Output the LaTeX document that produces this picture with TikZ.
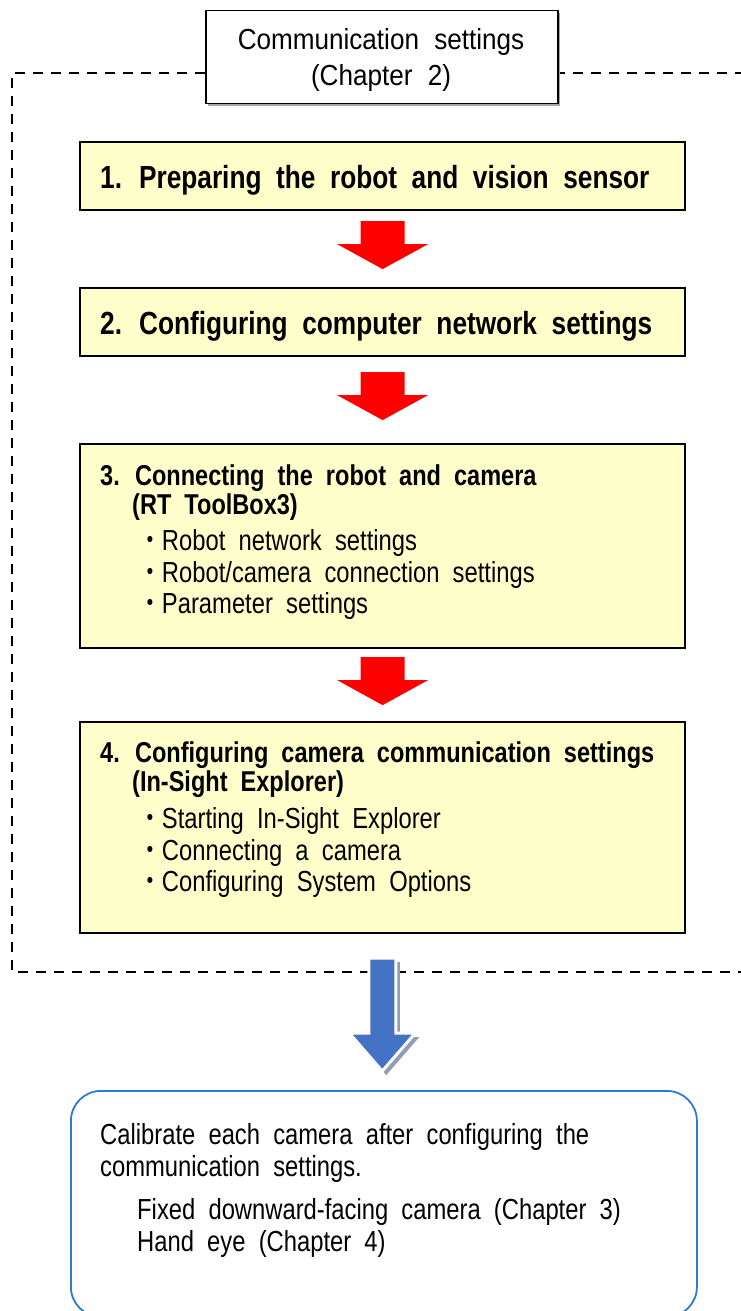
\documentclass[tikz,border=0pt]{standalone}
\usepackage{fontspec}
\setmainfont{Liberation Sans}[FakeStretch=0.82, WordSpace=2.0]
\newfontfamily\topfont{Liberation Sans}[FakeStretch=0.9, WordSpace=2.1]
\newfontfamily\cjkfont{Noto Sans CJK JP}[FakeStretch=0.82]
\usetikzlibrary{calc}
\definecolor{yel}{HTML}{FFFFCC}
\definecolor{bluebd}{HTML}{2E7AD0}
\definecolor{bluearr}{HTML}{4472C4}
\definecolor{bluesh}{HTML}{8E9DB8}
\definecolor{shgray}{HTML}{A6A6A6}
\newcommand{\bul}{{\cjkfont ・}}
\begin{document}
\begin{tikzpicture}[x=1pt,y=-1pt,
  stepbox/.style={draw=black, line width=2.2pt, fill=yel, minimum width=605pt, anchor=north west, inner sep=0pt},
  titletext/.style={anchor=base west, inner sep=0pt, font=\fontsize{32}{36}\selectfont\bfseries},
  titlesmall/.style={anchor=base west, inner sep=0pt, font=\fontsize{28.7}{32}\selectfont\bfseries},
  bodytext/.style={anchor=base west, inner sep=0pt, font=\fontsize{29}{32}\selectfont},
  redarr/.pic={\fill[red] (-22,-28) -- (22,-28) -- (22,-5) -- (45.5,-5) -- (0,20) -- (-45.5,-5) -- (-22,-5) -- cycle;},
  bluearrow/.pic={
    \fill[bluesh] (-13.5+4,-56+4) -- (13.5+4,-56+4) -- (13.5+4,19+4) -- (33+4,19+4) -- (0+4,57+4) -- (-33+4,19+4) -- (-13.5+4,19+4) -- cycle;
    \filldraw[fill=bluearr, draw=white, line width=3pt, line join=miter] (-13.5,-56) -- (13.5,-56) -- (13.5,19) -- (33,19) -- (0,57) -- (-33,19) -- (-13.5,19) -- cycle;}
]
\useasboundingbox (0,0) rectangle (740,1311);
\fill[white] (0,0) rectangle (740,1311);

% dashed frame
\coordinate (fr1) at (745,73);
\coordinate (fr2) at (12,73);
\coordinate (fr3) at (12,972);
\coordinate (fr4) at (745,972);
\draw[line width=2.6pt, dash pattern=on 10pt off 8pt] (fr1) -- (fr2) -- (fr3) -- (fr4);

% top box with shadow
\fill[shgray] (208,13) rectangle (560,106);
\node[draw=black, line width=1.5pt, fill=white, minimum width=352pt, minimum height=93pt, anchor=north west, inner sep=0pt] (top) at (205,10) {};
\node[anchor=base, inner sep=0pt, font=\topfont\fontsize{29}{32}\selectfont] (top1) at (381,50) {Communication settings};
\node[anchor=base, inner sep=0pt, font=\topfont\fontsize{29}{32}\selectfont] (top2) at (381,86) {(Chapter 2)};

% step boxes
\node[stepbox, minimum height=68pt] (b1) at (79,141) {};
\node[titletext] (t1) at (100,188) {1. Preparing the robot and vision sensor};

\node[stepbox, minimum height=68pt] (b2) at (79,287) {};
\node[titletext] (t2) at (100,334) {2. Configuring computer network settings};

\node[stepbox, minimum height=204pt] (b3) at (79,443) {};
\node[titlesmall] (t3) at (100,485) {3. Connecting the robot and camera};
\node[titlesmall] (t3b) at (132,514) {(RT ToolBox3)};
\node[bodytext] (t3c) at (138,550) {\bul Robot network settings};
\node[bodytext] (t3d) at (138,582) {\bul Robot/camera connection settings};
\node[bodytext] (t3e) at (138,613) {\bul Parameter settings};

\node[stepbox, minimum height=211pt] (b4) at (79,721) {};
\node[titlesmall] (t4) at (100,762) {4. Configuring camera communication settings};
\node[titlesmall] (t4b) at (132,791) {(In-Sight Explorer)};
\node[bodytext] (t4c) at (138,828) {\bul Starting In-Sight Explorer};
\node[bodytext] (t4d) at (138,860) {\bul Connecting a camera};
\node[bodytext] (t4e) at (138,891) {\bul Configuring System Options};

% red arrows
\pic at ($(b1.south)!0.5!(b2.north)$) {redarr};
\pic at ($(b2.south)!0.5!(b3.north)$) {redarr};
\pic at ($(b3.south)!0.5!(b4.north)$) {redarr};

% bottom box
\node[draw=bluebd, line width=1.8pt, rounded corners=30pt, minimum width=626pt, minimum height=226pt, anchor=north west, inner sep=0pt] (calib) at (70,1090) {};
\node[bodytext] (c1) at (100,1144) {Calibrate each camera after configuring the};
\node[bodytext] (c2) at (100,1176) {communication settings.};
\node[bodytext] (c3) at (137,1219) {Fixed downward-facing camera (Chapter 3)};
\node[bodytext] (c4) at (137,1251) {Hand eye (Chapter 4)};

% blue arrow
\pic at ($(b4.south)!0.5!(calib.north)+(-1,2)$) {bluearrow};
\end{tikzpicture}
\end{document}
